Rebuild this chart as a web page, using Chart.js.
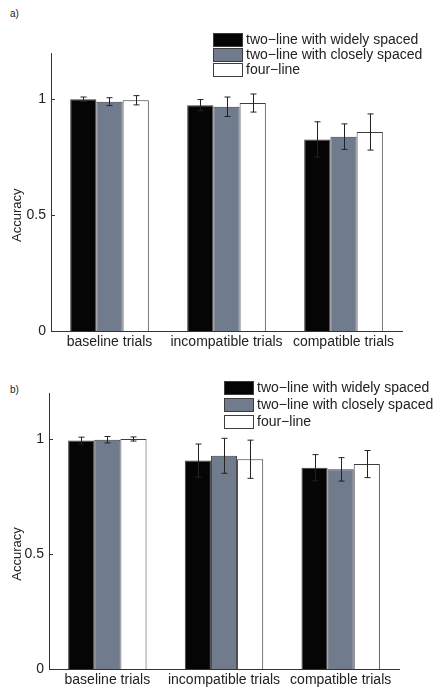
<!DOCTYPE html>
<html>
<head>
<meta charset="utf-8">
<script src="https://cdn.jsdelivr.net/npm/chart.js@4/dist/chart.umd.min.js"></script>
<style>
  html, body { margin: 0; padding: 0; background: #fff; }
  #wrap { position: relative; width: 436px; height: 690px; overflow: hidden; }
  canvas { position: absolute; left: 0; }
  .panel-tag { position: absolute; left: 10px; font: 10px 'Liberation Sans', Arial, sans-serif; color: #222; }
</style>
</head>
<body>
<div id="wrap">
  <div class="panel-tag" style="top:8px">a)</div>
  <canvas id="chartA" width="436" height="350" style="top:0"></canvas>
  <div class="panel-tag" style="top:384px">b)</div>
  <canvas id="chartB" width="436" height="340" style="top:350px"></canvas>
</div>
<script>
const categories  = ['baseline trials', 'incompatible trials', 'compatible trials'];
const seriesNames = ['two−line with widely spaced', 'two−line with closely spaced', 'four−line'];
const yTicks = [0, 0.5, 1];
const yTitle = 'Accuracy';

// panel a
const aWide     = [1.000, 0.975, 0.827];
const aWideErr  = [0.010, 0.024, 0.076];
const aClose    = [0.990, 0.968, 0.839];
const aCloseErr = [0.017, 0.042, 0.055];
const aFour     = [0.996, 0.984, 0.859];
const aFourErr  = [0.020, 0.039, 0.078];

// panel b
const bWide     = [0.993, 0.906, 0.875];
const bWideErr  = [0.015, 0.072, 0.057];
const bClose    = [0.997, 0.927, 0.868];
const bCloseErr = [0.014, 0.076, 0.051];
const bFour     = [1.000, 0.912, 0.891];
const bFourErr  = [0.009, 0.083, 0.059];

const COLORS = ['#050505', '#707b8d', '#ffffff'];
const EDGE = '#3c3c3c';
const FONT = "'Liberation Sans', Arial, Helvetica, sans-serif";

const errorBars = {
  id: 'errorBars',
  afterDatasetsDraw(chart) {
    const ctx = chart.ctx, y = chart.scales.y;
    ctx.save();
    ctx.strokeStyle = '#222';
    ctx.lineWidth = 1;
    chart.data.datasets.forEach((ds, i) => {
      chart.getDatasetMeta(i).data.forEach((bar, j) => {
        const v = ds.data[j], e = ds.errors[j];
        const x = Math.round(bar.x) + 0.5;
        const top = y.getPixelForValue(v + e), bot = y.getPixelForValue(v - e);
        ctx.beginPath();
        ctx.moveTo(x, top); ctx.lineTo(x, bot);
        ctx.moveTo(x - 3, top); ctx.lineTo(x + 3, top);
        ctx.moveTo(x - 3, bot); ctx.lineTo(x + 3, bot);
        ctx.stroke();
      });
    });
    ctx.restore();
  }
};

// inward y ticks plus the y label, centred on the 0..1 span like the original
const axisExtras = {
  id: 'axisExtras',
  afterDraw(chart) {
    const ctx = chart.ctx, y = chart.scales.y, left = chart.chartArea.left;
    ctx.save();
    ctx.strokeStyle = '#333';
    ctx.lineWidth = 1;
    yTicks.forEach(t => {
      const py = Math.round(y.getPixelForValue(t)) + 0.5;
      ctx.beginPath();
      ctx.moveTo(left, py); ctx.lineTo(left + 4, py);
      ctx.stroke();
    });
    const mid = (y.getPixelForValue(0) + y.getPixelForValue(1)) / 2;
    ctx.translate(17, mid);
    ctx.rotate(-Math.PI / 2);
    ctx.font = '13px ' + FONT;
    ctx.fillStyle = '#222';
    ctx.textAlign = 'center';
    ctx.textBaseline = 'middle';
    ctx.fillText(yTitle, 0, 0);
    ctx.restore();
  }
};

const boxLegend = {
  id: 'boxLegend',
  afterDraw(chart, args, opts) {
    const ctx = chart.ctx;
    ctx.save();
    ctx.font = '14px ' + FONT;
    ctx.textBaseline = 'middle';
    chart.data.datasets.forEach((ds, i) => {
      const by = opts.y + i * opts.step;
      ctx.fillStyle = ds.backgroundColor;
      ctx.fillRect(opts.x, by, 30, opts.h);
      ctx.strokeStyle = EDGE;
      ctx.lineWidth = 1;
      ctx.strokeRect(opts.x + 0.5, by + 0.5, 29, opts.h - 1);
      ctx.fillStyle = '#222';
      ctx.fillText(ds.label, opts.x + 33, by + opts.h / 2 + 0.5);
    });
    ctx.restore();
  }
};

function makeChart(id, series, errs, geo) {
  const datasets = series.map((s, i) => ({
    label: seriesNames[i],
    data: s,
    errors: errs[i],
    backgroundColor: COLORS[i],
    borderColor: EDGE,
    borderWidth: 1,
    categoryPercentage: 0.672,
    barPercentage: 1.0,
  }));

  return new Chart(document.getElementById(id), {
    type: 'bar',
    data: { labels: categories, datasets },
    plugins: [errorBars, axisExtras, boxLegend],
    options: {
      responsive: false,
      animation: false,
      devicePixelRatio: 1,
      layout: { padding: { left: 0, right: 436 - geo.right, top: geo.top, bottom: 0 } },
      plugins: {
        legend: { display: false },
        tooltip: { enabled: false },
        boxLegend: geo.legend,
      },
      scales: {
        x: {
          grid: { display: false, drawTicks: false },
          border: { display: true, color: '#333', width: 1 },
          ticks: { color: '#222', font: { family: FONT, size: 14 }, padding: 3, maxRotation: 0, autoSkip: false },
          afterFit(s) { s.height = geo.canvasH - geo.bottom; },
        },
        y: {
          min: 0, max: 1.2,
          afterBuildTicks(s) { s.ticks = yTicks.map(v => ({ value: v })); },
          grid: { display: false, drawTicks: false },
          border: { display: true, color: '#333', width: 1 },
          ticks: { color: '#222', font: { family: FONT, size: 14 }, padding: 5, callback: v => String(v) },
          afterFit(s) { s.width = geo.left; },
        }
      }
    }
  });
}

makeChart('chartA', [aWide, aClose, aFour], [aWideErr, aCloseErr, aFourErr],
  { canvasH: 350, left: 51, right: 402, top: 53, bottom: 331, legend: { x: 213, y: 33, h: 14, step: 15 } });

makeChart('chartB', [bWide, bClose, bFour], [bWideErr, bCloseErr, bFourErr],
  { canvasH: 340, left: 49, right: 399, top: 43, bottom: 319, legend: { x: 224, y: 31, h: 14, step: 17 } });
</script>
</body>
</html>
